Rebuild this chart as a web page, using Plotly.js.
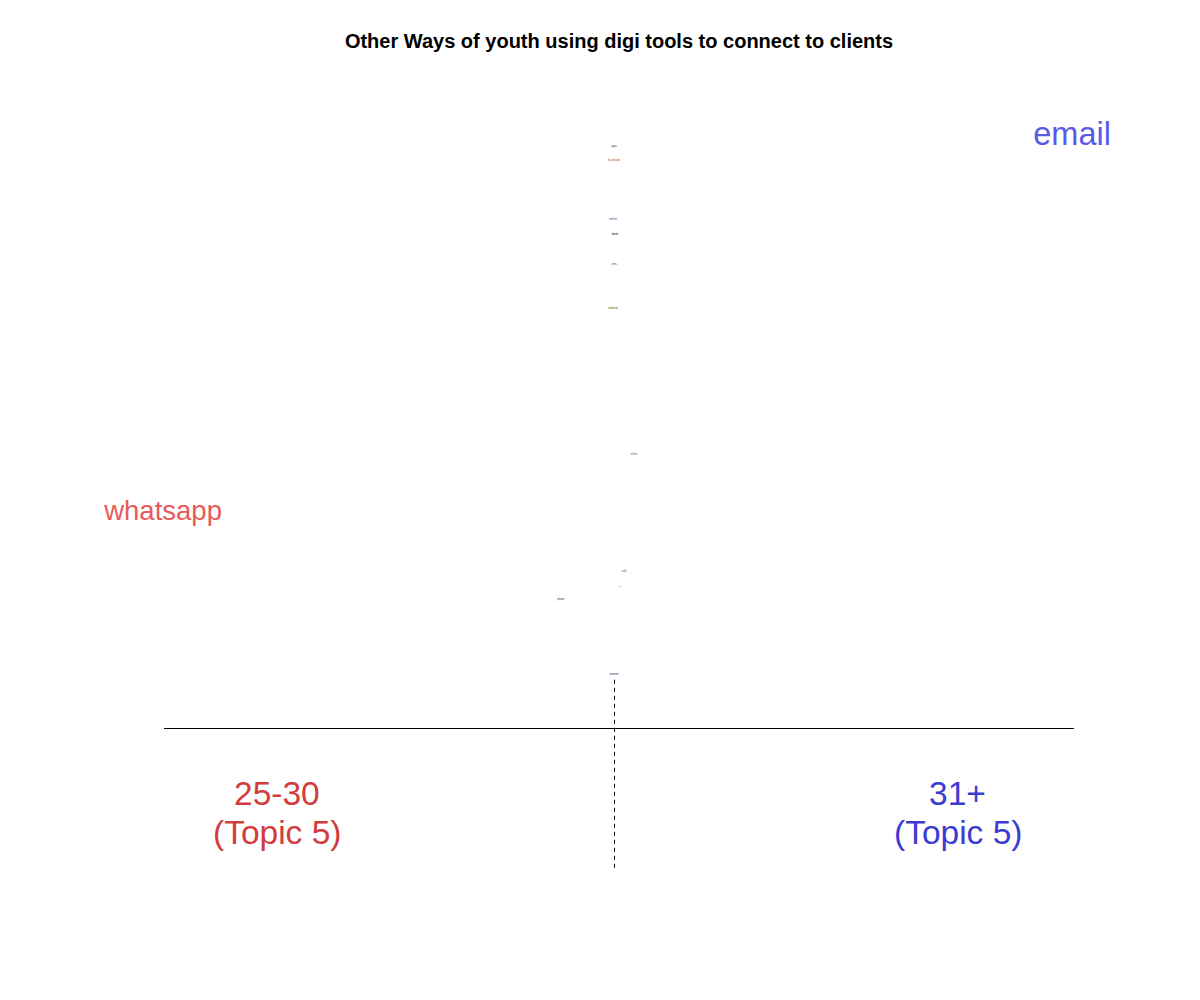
<!DOCTYPE html>
<html>
<head>
<meta charset="utf-8">
<script src="https://cdn.plot.ly/plotly-3.0.1.min.js"></script>
<style>html,body{margin:0;padding:0;background:#fff;}#chart{width:1200px;height:1000px;}</style>
</head>
<body>
<div id="chart"></div>
<script>
// Words and their positions on the perspective scale (x: -1 = 25-30, +1 = 31+; y: rank height)
const words  = ["email", "whatsapp", "apps", "facebook", "twitter", "text", "sms", "website", "online", "call", "via", "phone", "network"];
const wordX  = [1.018, -1.002, 0.000, 0.000, -0.002, 0.002, 0.000, -0.002, 0.044, 0.022, 0.013, -0.118, 0.000];
const wordY  = [1.005, 0.366, 0.990, 0.966, 0.866, 0.840, 0.789, 0.714, 0.466, 0.267, 0.241, 0.218, 0.092];
const wordSize = [32.5, 27.5, 2.6, 3, 3, 4, 3, 3, 2.6, 3, 2, 2.6, 2.6];
const wordColor = ["#5a5ae6", "#e65a5a", "#334455", "#a0581a", "#2a5a98", "#000000", "#2a5a98", "#7a5a1a", "#1a6a7a", "#5a4a2a", "#a0581a", "#3a2a2a", "#333344"];

const groupNames = ["25-30", "31+"];
const groupSub = ["(Topic 5)", "(Topic 5)"];
const groupX = [-0.749, 0.764];
const groupNameY = [-0.111, -0.111];
const groupSubY = [-0.177, -0.177];
const groupColor = ["#d23c3c", "#3c3cd2"];

const pxX = 1 / 450, pxY = 1 / 588;
const baseline = {x0: -1.0, x1: 1.022, y: 0};
const divider = {x: 0, y0: 0.082, y1: -0.241};

const trace = {
  type: "scatter",
  mode: "text",
  x: wordX,
  y: wordY,
  text: words,
  textposition: "middle center",
  textfont: {family: "Liberation Sans, Arial, sans-serif", size: wordSize, color: wordColor},
  hoverinfo: "text",
  showlegend: false
};

const labelFont = c => ({family: "Liberation Sans, Arial, sans-serif", size: 33.5, color: c});
const annotations = [];
groupNames.forEach((t, i) => {
  annotations.push({x: groupX[i], y: groupNameY[i], xref: "x", yref: "y", text: t, showarrow: false,
    xanchor: "center", yanchor: "middle", font: labelFont(groupColor[i])});
  annotations.push({x: groupX[i], y: groupSubY[i], xref: "x", yref: "y", text: groupSub[i], showarrow: false,
    xanchor: "center", yanchor: "middle", font: labelFont(groupColor[i])});
});

const layout = {
  width: 1200,
  height: 1000,
  margin: {l: 0, r: 0, t: 0, b: 0},
  paper_bgcolor: "#ffffff",
  plot_bgcolor: "#ffffff",
  showlegend: false,
  title: {
    text: "<b>Other Ways of youth using digi tools to connect to clients</b>",
    font: {family: "Liberation Sans, Arial, sans-serif", size: 20, color: "#000000"},
    x: 619/1200, xanchor: "center", xref: "paper",
    y: 1 - 41/1000, yanchor: "middle", yref: "paper"
  },
  xaxis: {range: [-614/450, 586/450], visible: false, showgrid: false, zeroline: false, fixedrange: true},
  yaxis: {range: [-272/588, 728/588], visible: false, showgrid: false, zeroline: false, fixedrange: true},
  shapes: [
    {type: "line", xref: "x", yref: "y", x0: baseline.x0, x1: baseline.x1,
     y0: baseline.y - pxY / 2, y1: baseline.y - pxY / 2,
     line: {color: "#000000", width: 1}},
    {type: "line", xref: "x", yref: "y", x0: divider.x + pxX / 2, x1: divider.x + pxX / 2,
     y0: divider.y0, y1: divider.y1,
     line: {color: "#000000", width: 1, dash: "4px,4px"}}
  ],
  annotations: annotations
};

Plotly.newPlot("chart", [trace], layout, {staticPlot: true, displayModeBar: false});
</script>
</body>
</html>
